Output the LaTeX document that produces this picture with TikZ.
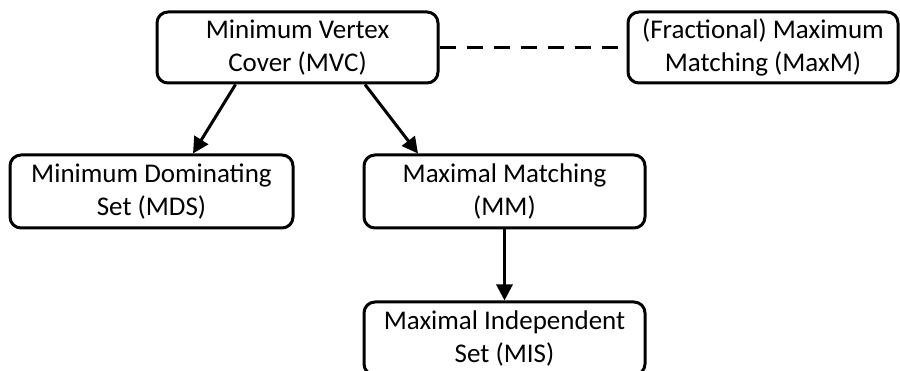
\documentclass[tikz,border=0pt]{standalone}
\usepackage{fontspec}
\setmainfont{Carlito}
\usetikzlibrary{arrows.meta,calc}
\begin{document}
\begin{tikzpicture}[x=1pt,y=-1pt,
  box/.style={draw=black,line width=3pt,rounded corners=11pt,align=center,
    font=\fontsize{27}{33}\selectfont,inner sep=0pt},
  arr/.style={line width=3pt,-{Triangle[length=16pt,width=16pt]}}]
\useasboundingbox (0,0) rectangle (900,371);
\node[box,minimum width=281pt,minimum height=71pt] (mvc) at (297.5,47.5) {Minimum Vertex\\Cover (MVC)};
\node[box,minimum width=270pt,minimum height=71pt] (maxm) at (763,47.5) {(Fractional) Maximum\\Matching (MaxM)};
\node[box,minimum width=283pt,minimum height=73pt] (mds) at (151.5,191.5) {Minimum Dominating\\Set (MDS)};
\node[box,minimum width=281pt,minimum height=73pt] (mm) at (504.5,191.5) {Maximal Matching\\(MM)};
\node[box,minimum width=281pt,minimum height=73pt] (mis) at (504.5,338.5) {Maximal Independent\\Set (MIS)};
\draw[line width=3pt,dash pattern=on 16pt off 11pt] (mvc.east) -- (maxm.west);
\draw[arr] ($(mvc.south)+(-62,0)$) -- ($(mds.north)+(41.5,0)$);
\draw[arr] ($(mvc.south)+(67.5,0)$) -- ($(mm.north)+(-86.5,0)$);
\draw[arr] (mm.south) -- (mis.north);
\end{tikzpicture}
\end{document}
